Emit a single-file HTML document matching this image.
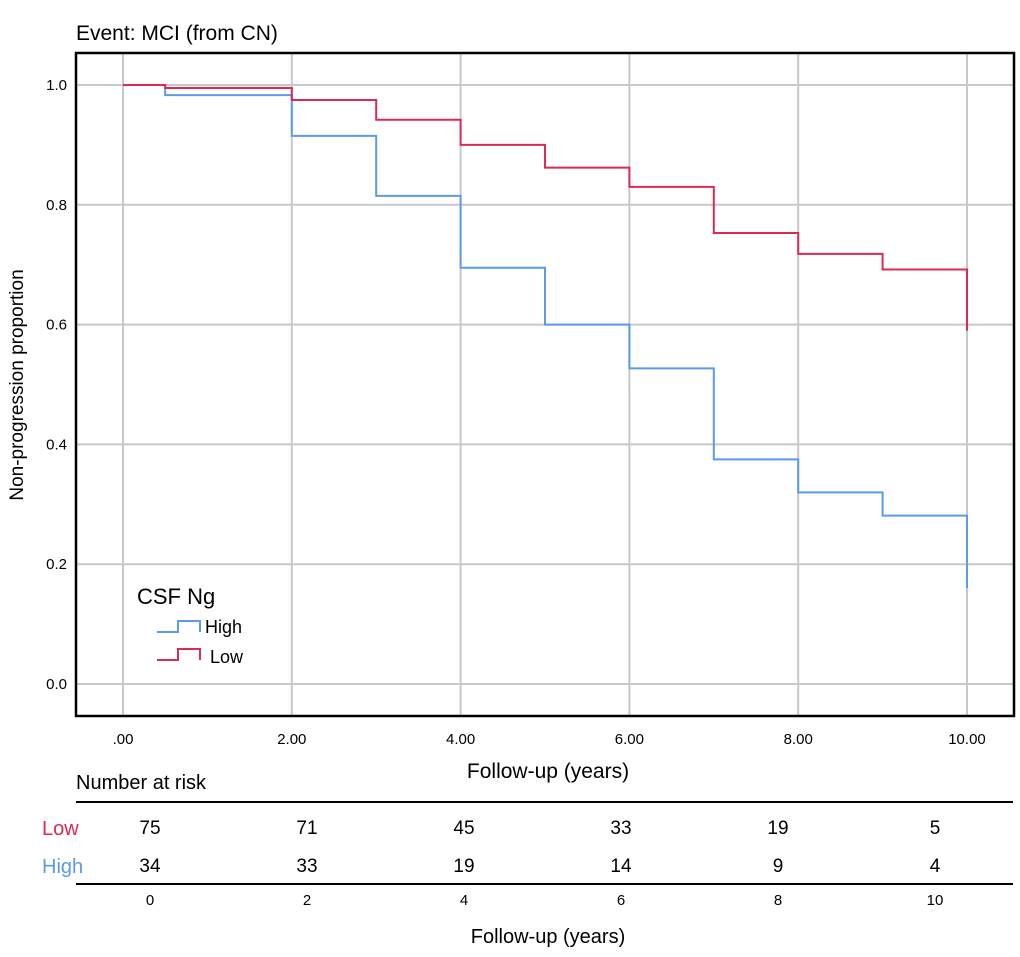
<!DOCTYPE html><html><head><meta charset="utf-8"><style>
body{margin:0;background:#fff;font-family:"Liberation Sans",sans-serif}
svg text{font-family:"Liberation Sans",sans-serif}
</style></head><body>
<svg width="1020" height="952">
<text x="76" y="40" font-size="21">Event: MCI (from CN)</text>
<g id="grid"></g>
<rect x="76" y="53" width="938" height="663" fill="none" stroke="#000" stroke-width="2.5"/>
<g id="ticks"></g>
<g id="series"></g>
<text transform="translate(23,385) rotate(-90)" font-size="19" text-anchor="middle">Non-progression proportion</text>
<text x="548" y="778" font-size="21" text-anchor="middle">Follow-up (years)</text>
<g>
<text x="137" y="604" font-size="22">CSF Ng</text>
<path d="M157 632H178V621H200V632" fill="none" stroke="#5b9be8" stroke-width="2"/>
<text x="205" y="633" font-size="18">High</text>
<path d="M157 660H178V649H200V660" fill="none" stroke="#dc2a50" stroke-width="2"/>
<text x="210" y="663" font-size="18">Low</text>
</g>
<text x="76" y="789" font-size="20">Number at risk</text>
<line x1="76" y1="802" x2="1013" y2="802" stroke="#000" stroke-width="2"/>
<line x1="76" y1="884" x2="1013" y2="884" stroke="#000" stroke-width="2"/>
<text x="42" y="835" font-size="20" fill="#dc2a50">Low</text>
<text x="42" y="873" font-size="20" fill="#5b9be8">High</text>
<g id="risk"></g>
<text x="548" y="943" font-size="20" text-anchor="middle">Follow-up (years)</text>
</svg>
<script>
const highTimes=[0,0.5,2,3,4,5,6,7,8,9,10];
const highVals=[1.0,0.983,0.915,0.815,0.695,0.6,0.527,0.375,0.32,0.281,0.16];
const lowTimes=[0,0.5,2,3,4,5,6,7,8,9,10];
const lowVals=[1.0,0.995,0.975,0.942,0.9,0.862,0.83,0.753,0.718,0.692,0.59];
const xTicks=[0,2,4,6,8,10];
const xTickLabels=[".00","2.00","4.00","6.00","8.00","10.00"];
const yTicks=[0,0.2,0.4,0.6,0.8,1.0];
const riskTimes=[0,2,4,6,8,10];
const riskLow=[75,71,45,33,19,5];
const riskHigh=[34,33,19,14,9,4];
const NS="http://www.w3.org/2000/svg";
const X=t=>123+t*84.4, Y=v=>684-v*599;
const RX=t=>150+t*78.5;
function mk(tag,attrs,parent,txt){const e=document.createElementNS(NS,tag);for(const k in attrs)e.setAttribute(k,attrs[k]);if(txt!=null)e.textContent=txt;document.getElementById(parent).appendChild(e);return e;}
xTicks.forEach((t,i)=>{
 const l=mk('line',{x1:X(t),x2:X(t),y1:54,y2:715,stroke:'#c8c8c8','stroke-width':2},'grid');
 
 
 const tx=mk('text',{x:X(t),y:744,'font-size':15,'text-anchor':'middle'},'ticks',xTickLabels[i]);
 
 
});
yTicks.forEach(v=>{
 const l=mk('line',{x1:77,x2:1013,y1:Y(v),y2:Y(v),stroke:'#c8c8c8','stroke-width':2},'grid');
 
 
 const tx=mk('text',{x:67,y:Y(v)+5,'font-size':15,'text-anchor':'end'},'ticks',v.toFixed(1));
 
 
});
function step(ts,vs,color,name){
 let d='M'+X(ts[0])+' '+Y(vs[0]);
 for(let i=1;i<ts.length;i++){d+='H'+X(ts[i])+'V'+Y(vs[i]);}
 const p=mk('path',{d:d,fill:'none',stroke:color,'stroke-width':2},'series');
 
 
}
step(highTimes,highVals,'#5b9be8','high-survival-curve');
step(lowTimes,lowVals,'#dc2a50','low-survival-curve');
riskTimes.forEach((t,i)=>{
 const a=mk('text',{x:RX(t),y:834,'font-size':19,'text-anchor':'middle'},'risk',riskLow[i]);
 
 
 const b=mk('text',{x:RX(t),y:872,'font-size':19,'text-anchor':'middle'},'risk',riskHigh[i]);
 
 
 const c=mk('text',{x:RX(t),y:905,'font-size':15,'text-anchor':'middle'},'risk',t);
 
 
});
</script>
</body></html>
